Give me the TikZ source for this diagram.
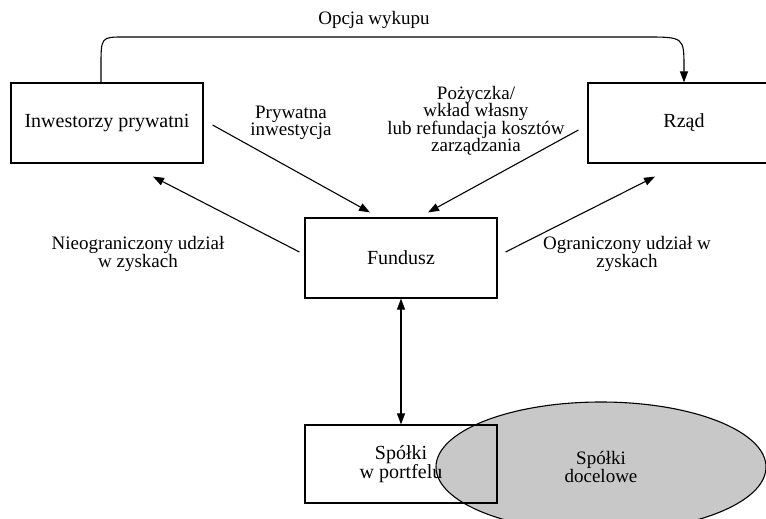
\documentclass[tikz,border=0pt]{standalone}
\usepackage{fontspec}
\setmainfont{Liberation Serif}
\usetikzlibrary{arrows.meta,shapes.geometric}

\tikzset{
	blok/.style={draw, line width=1.2pt, minimum width=192pt, minimum height=80pt, inner sep=0pt, align=center, font=\fontsize{20}{19}\selectfont},
	strz/.style={line width=1.1pt, -{Triangle[length=11pt,width=8pt]}},
	opis/.style={align=center, inner sep=0pt}
}

\begin{document}
\begin{tikzpicture}[x=1pt,y=-1pt,font=\fontsize{19}{17.5}\selectfont]
		% Ramka obrazka
		\useasboundingbox (0,0) rectangle (766,519);
		
		% Elipsa spolek docelowych (pod prostokatem)
		\node[ellipse, draw, line width=1.1pt, fill={rgb,255:red,200;green,200;blue,200}, minimum width=330pt, minimum height=130pt, inner sep=0pt, align=center] (doc) at (601,467) {Spółki\\docelowe};
		
		% Bloki
		\node[blok] (inw) at (107,123) {Inwestorzy prywatni};
		\node[blok] (rz) at (684,123) {Rząd};
		\node[blok] (fund) at (401,258) {Fundusz};
		\node[blok, minimum height=78pt] (port) at (401,464) {Spółki\\w portfelu};
		
		% Opcja wykupu
		\draw[strz] ([xshift=-6pt]inw.north) -- ++(0,-16) .. controls (101,37) .. (124,37) -- (645,37) .. controls (684,37) .. (684,68) -- (rz.north);
		\node[opis] (opc) at (374,20) {Opcja wykupu};
		
		% Strzalki do funduszu
		\draw[strz] ([xshift=9pt,yshift=-2pt]inw.east) -- ([xshift=-31pt,yshift=5pt]fund.north);
		\draw[strz] ([xshift=-9pt,yshift=-7pt]rz.west) -- ([xshift=27pt,yshift=5pt]fund.north);
		
		% Strzalki z funduszu
		\draw[strz] ([xshift=-5pt,yshift=6pt]fund.west) -- ([xshift=46pt,yshift=-13pt]inw.south);
		\draw[strz] ([xshift=8pt,yshift=6pt]fund.east) -- ([xshift=-29pt,yshift=-13pt]rz.south);
		
		% Fundusz - spolki w portfelu
		\draw[strz, {Triangle[length=11pt,width=8pt]}-{Triangle[length=11pt,width=8pt]}] (fund.south) -- (port.north);
		
		% Opisy strzalek
		\node[opis] (pryw) at (291,123) {Prywatna\\inwestycja};
		\node[opis] (poz) at (476,121) {Pożyczka/\\wkład własny\\lub refundacja kosztów\\zarządzania};
		\node[opis] (nieogr) at (138,254) {Nieograniczony udział\\w zyskach};
		\node[opis] (ogr) at (627,254) {Ograniczony udział w\\zyskach};
		
	\end{tikzpicture}
\end{document}
